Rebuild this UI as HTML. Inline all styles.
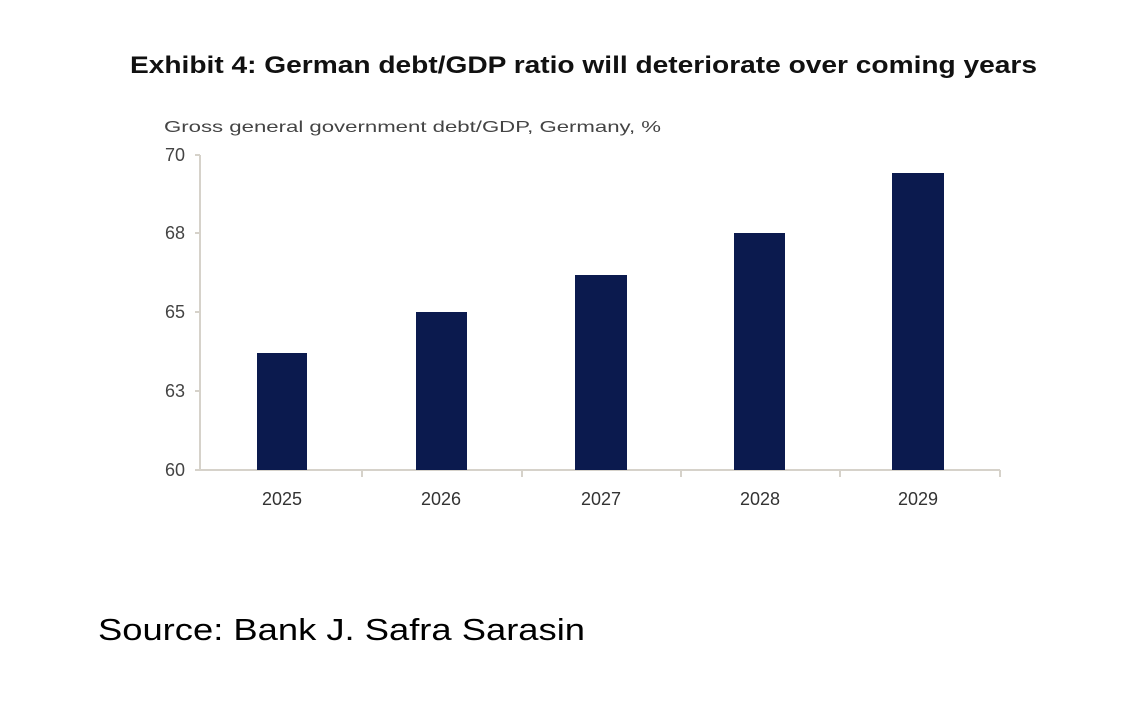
<!DOCTYPE html>
<html><head><style>html,body{margin:0;padding:0;background:#fff;}</style></head>
<body>
<svg width="1141" height="698" xmlns="http://www.w3.org/2000/svg" font-family="Liberation Sans, sans-serif">
<rect width="1141" height="698" fill="#fff"/>
<text x="130" y="73" font-size="24" font-weight="bold" fill="#111" textLength="907" lengthAdjust="spacingAndGlyphs">Exhibit 4: German debt/GDP ratio will deteriorate over coming years</text>
<text x="164" y="132" font-size="16" fill="#444" textLength="497" lengthAdjust="spacingAndGlyphs">Gross general government debt/GDP, Germany, %</text>
<g stroke="#d6d2ca" stroke-width="2" fill="none">
<line x1="200" y1="155" x2="200" y2="471"/>
<line x1="195" y1="155" x2="200" y2="155"/>
<line x1="195" y1="233" x2="200" y2="233"/>
<line x1="195" y1="312" x2="200" y2="312"/>
<line x1="195" y1="391" x2="200" y2="391"/>
<line x1="195" y1="470" x2="1000" y2="470"/>
<line x1="362" y1="470" x2="362" y2="477"/>
<line x1="522" y1="470" x2="522" y2="477"/>
<line x1="681" y1="470" x2="681" y2="477"/>
<line x1="840" y1="470" x2="840" y2="477"/>
<line x1="1000" y1="470" x2="1000" y2="477"/>
</g>
<g font-size="18" fill="#444" text-anchor="end">
<text x="185" y="161">70</text>
<text x="185" y="239">68</text>
<text x="185" y="318">65</text>
<text x="185" y="397">63</text>
<text x="185" y="476">60</text>
</g>
<g fill="#0b1a4e">
<rect x="257" y="353" width="50" height="117"/>
<rect x="416" y="312" width="51" height="158"/>
<rect x="575" y="275" width="52" height="195"/>
<rect x="734" y="233" width="51" height="237"/>
<rect x="892" y="173" width="52" height="297"/>
</g>
<g font-size="18" fill="#333" text-anchor="middle">
<text x="282" y="505">2025</text>
<text x="441" y="505">2026</text>
<text x="601" y="505">2027</text>
<text x="760" y="505">2028</text>
<text x="918" y="505">2029</text>
</g>
<text x="98" y="640" font-size="31" fill="#000" textLength="487" lengthAdjust="spacingAndGlyphs">Source: Bank J. Safra Sarasin</text>
</svg>
</body></html>
